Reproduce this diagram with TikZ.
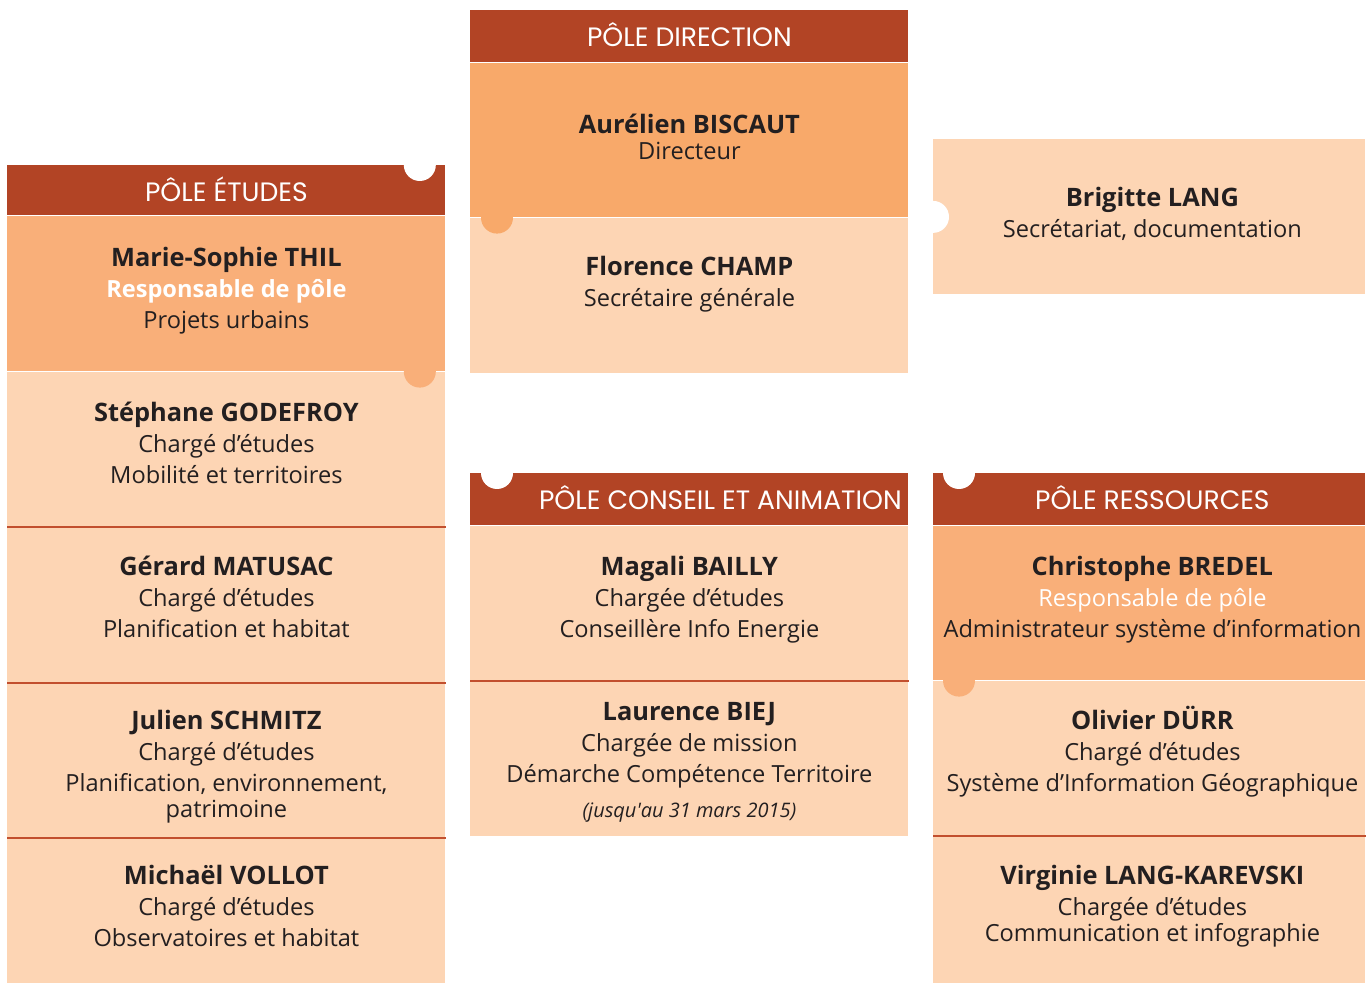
\documentclass[tikz,border=0pt]{standalone}
\usepackage{fontspec}
\setmainfont{Open Sans}
\newfontfamily\headfont{Poppins}
\usetikzlibrary{positioning}
\definecolor{rust}{HTML}{B24425}
\definecolor{peach}{HTML}{FDD5B4}
\definecolor{apricot}{HTML}{F9AF79}
\definecolor{tangerine}{HTML}{F8A96A}
\definecolor{ink}{HTML}{231F20}
\definecolor{rule}{HTML}{C24F2E}

\tikzset{
  box/.style={anchor=north west,inner sep=0pt,minimum width=219pt},
  head/.style={box,fill=rust,minimum height=26pt,text=white,align=center,
    font=\headfont\fontsize{13.3}{14}\selectfont},
  cell/.style={box,fill=peach,minimum height=77.5pt},
  lead/.style={cell,fill=apricot},
  txt/.style={align=center,inner sep=0pt,text=ink,font=\fontsize{11.8}{15.5}\selectfont},
  divider/.style={rule,line width=1pt},
}
\newcommand{\who}[1]{{\fontsize{12.7}{15.5}\selectfont\bfseries #1}}

\begin{document}
\begin{tikzpicture}[x=0.5pt,y=-0.5pt]
\useasboundingbox (0,0) rectangle (1370,983);

% pole etudes
\node[head,minimum height=25pt] (etudes) at (7,165) {\raisebox{1.5pt}{PÔLE ÉTUDES}};
\node[lead] (thil) at (etudes.south west) {};
\node[cell] (godefroy) at (thil.south west) {};
\node[cell] (matusac) at (godefroy.south west) {};
\node[cell,minimum height=77pt] (schmitz) at (matusac.south west) {};
\node[cell,minimum height=74.5pt] (vollot) at (schmitz.south west) {};
\node[txt,yshift=1.5pt] (thil-t) at (thil)
  {\who{Marie-Sophie THIL}\\\textcolor{white}{\bfseries Responsable de pôle}\\Projets urbains};
\node[txt,yshift=3.5pt] (godefroy-t) at (godefroy)
  {\who{Stéphane GODEFROY}\\Chargé d’études\\Mobilité et territoires};
\node[txt,yshift=4pt] (matusac-t) at (matusac)
  {\who{Gérard MATUSAC}\\Chargé d’études\\Planification et habitat};
\node[txt,yshift=-3pt] (schmitz-t) at (schmitz)
  {\who{Julien SCHMITZ}\\Chargé d’études\\Planification, environnement,\\[-2.5pt]patrimoine};
\node[txt,yshift=3.5pt] (vollot-t) at (vollot)
  {\who{Michaël VOLLOT}\\Chargé d’études\\Observatoires et habitat};

% pole direction
\node[head] (direction) at (470,10) {\raisebox{1.5pt}{PÔLE DIRECTION}};
\node[cell,fill=tangerine,minimum height=77pt] (biscaut) at (direction.south west) {};
\node[cell] (champ) at (biscaut.south west) {};
\node[cell,minimum width=216pt] (lang) at (933,139) {};
\node[txt,yshift=1.5pt] (biscaut-t) at (biscaut) {\who{Aurélien BISCAUT}\\[-2.5pt]Directeur};
\node[txt,yshift=5.5pt] (champ-t) at (champ) {\who{Florence CHAMP}\\Secrétaire générale};
\node[txt,yshift=1.5pt,xshift=1.5pt] (lang-t) at (lang) {\who{Brigitte LANG}\\Secrétariat, documentation};

% pole conseil et animation
\node[head] (conseil) at (470,473) {\hspace*{31pt}\raisebox{1.5pt}{PÔLE CONSEIL ET ANIMATION}};
\node[cell,minimum height=77pt] (bailly) at (conseil.south west) {};
\node[cell] (biej) at (bailly.south west) {};
\node[txt,yshift=2pt] (bailly-t) at (bailly)
  {\who{Magali BAILLY}\\Chargée d’études\\Conseillère Info Energie};
\node[txt,yshift=-2pt] (biej-t) at (biej)
  {\who{Laurence BIEJ}\\Chargée de mission\\Démarche Compétence Territoire\\[2pt]
   {\itshape\fontsize{10}{12}\selectfont (jusqu\textquotesingle au 31 mars 2015)}};

% pole ressources
\node[head,minimum width=216pt] (ressources) at (933,473) {\hspace*{3pt}\raisebox{1.5pt}{PÔLE RESSOURCES}};
\node[lead,minimum width=216pt,minimum height=77pt] (bredel) at (ressources.south west) {};
\node[cell,minimum width=216pt] (durr) at (bredel.south west) {};
\node[cell,minimum width=216pt,minimum height=74.5pt] (karevski) at (durr.south west) {};
\node[txt,yshift=2pt,xshift=1.5pt] (bredel-t) at (bredel)
  {\who{Christophe BREDEL}\\\textcolor{white}{Responsable de pôle}\\Administrateur système d’information};
\node[txt,yshift=3.5pt,xshift=1.5pt] (durr-t) at (durr)
  {\who{Olivier DÜRR}\\Chargé d’études\\Système d’Information Géographique};
\node[txt,yshift=2.5pt,xshift=1.5pt] (karevski-t) at (karevski)
  {\who{Virginie LANG-KAREVSKI}\\Chargée d’études\\[-2.5pt]Communication et infographie};

% filets
\draw[divider] (godefroy.south west) -- (godefroy.south east);
\draw[divider] (matusac.south west) -- (matusac.south east);
\draw[divider] (schmitz.south west) -- (schmitz.south east);
\draw[divider] (bailly.south west) -- (bailly.south east);
\draw[divider] (durr.south west) -- (durr.south east);

% encoches
\fill[white] (etudes.north east) ++(-26,0) circle (8pt);
\fill[apricot] (thil.south east) ++(-26,0) circle (8pt);
\fill[tangerine] (biscaut.south west) ++(27,0) circle (8pt);
\fill[white] (lang.west) circle (8pt);
\fill[white] (conseil.north west) ++(27,0) circle (8pt);
\fill[white] (ressources.north west) ++(26,0) circle (8pt);
\fill[apricot] (bredel.south west) ++(26,0) circle (8pt);
\end{tikzpicture}
\end{document}
